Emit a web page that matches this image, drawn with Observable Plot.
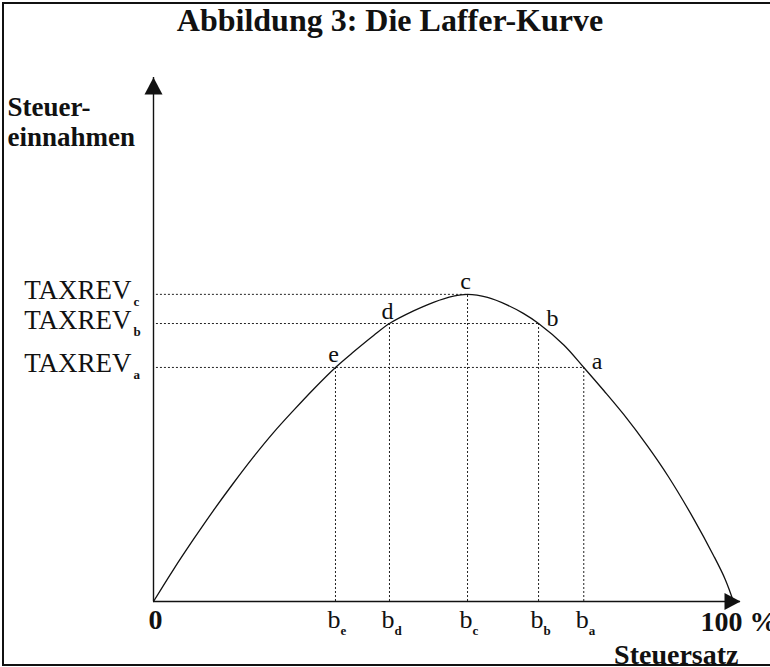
<!DOCTYPE html>
<html>
<head>
<meta charset="utf-8">
<script src="https://cdn.jsdelivr.net/npm/d3@7"></script>
<script src="https://cdn.jsdelivr.net/npm/@observablehq/plot@0.6"></script>
<style>
  html, body { margin: 0; padding: 0; background: #fff; overflow: hidden; }
  #wrap { position: relative; width: 770px; height: 667px; overflow: hidden; }
  #title { position: absolute; left: 0; top: 2px; width: 770px; padding-left: 10px; box-sizing: border-box;
           text-align: center; font: bold 32px/36px "Liberation Serif", "Times New Roman", serif; color: #111; z-index: 3; }
  #frame { position: absolute; left: 2px; top: 2px; width: 820px; height: 664px; box-sizing: border-box;
           border-left: 2px solid #111; border-top: 2px solid #111; border-bottom: 2px solid #111; z-index: 4; pointer-events: none; }
  #chart { position: absolute; left: 0; top: 0; }
</style>
</head>
<body>
<div id="wrap">
  <div id="chart"></div>
  <div id="title">Abbildung 3: Die Laffer-Kurve</div>
  <div id="frame"></div>
</div>
<script>
// Laffer curve (tax rate in %, tax revenue in arbitrary units, peak = 100)
const curveRate    = [0, 3.4, 6.8, 10.2, 13.6, 17.0, 20.4, 23.9, 27.3, 31.0, 34.1, 37.5, 40.2, 44.3, 47.7, 51.1, 53.5,
                      56.9, 60.3, 63.0, 65.6, 69.9, 73.3, 76.7, 80.1, 84.2, 87.7, 92.0, 95.4, 97.4, 98.8];
const curveRevenue = [0, 10.4, 20.2, 29.6, 38.5, 47.0, 54.9, 62.3, 69.2, 76.2, 81.3, 86.6, 90.5, 94.6, 97.4, 99.4, 100,
                      99.0, 96.5, 93.8, 90.5, 83.5, 76.2, 68.7, 60.9, 50.5, 40.7, 27.0, 15.0, 7.2, 0];

// labelled points on the curve
const pointNames   = ["e", "d", "c", "b", "a"];
const pointRate    = [31.0, 40.2, 53.5, 65.6, 73.3];
const pointRevenue = [76.2, 90.5, 100, 90.5, 76.2];

// revenue levels (TAXREV_x) and where their guide lines end
const levelNames   = ["c", "b", "a"];
const levelRevenue = [100, 90.5, 76.2];
const levelEndRate = [53.5, 65.6, 73.3];

// axis texts
const yAxisLabel = "Steuer-\neinnahmen";
const xAxisLabel = "Steuersatz";
const xStartLabel = "0";
const xEndLabel = "100 %";
const rateTickSymbol = "b";
const levelSymbol = "TAXREV";
const peakName = "c";

const xMax = 100;
const yMax = 170.6;

const curve = curveRate.map((r, i) => ({rate: r, revenue: curveRevenue[i]}));
const points = pointNames.map((n, i) => ({name: n, rate: pointRate[i], revenue: pointRevenue[i]}));
const levels = levelNames.map((n, i) => ({name: n, revenue: levelRevenue[i], end: levelEndRate[i]}));
const peakRate = points.find(p => p.name === peakName).rate;

const arrowUp = {draw(ctx) { ctx.moveTo(0, 0); ctx.lineTo(-9, 17); ctx.lineTo(9, 17); ctx.closePath(); }};
const arrowRight = {draw(ctx) { ctx.moveTo(0, 0); ctx.lineTo(-16, -8.5); ctx.lineTo(-16, 8.5); ctx.closePath(); }};

const ink = "#111";
const dotted = {stroke: "#222", strokeWidth: 1, strokeDasharray: "2,2"};
const serif = "Liberation Serif";

const chart = Plot.plot({
  width: 770,
  height: 667,
  marginLeft: 153,
  marginRight: 30,
  marginTop: 77,
  marginBottom: 66,
  x: {domain: [0, xMax], axis: null},
  y: {domain: [0, yMax], axis: null},
  style: {fontFamily: serif, background: "transparent", color: ink, overflow: "visible"},
  marks: [
    // guide lines
    Plot.ruleY(levels, {y: "revenue", x1: 0.5, x2: "end", ...dotted}),
    Plot.ruleX(points, {x: "rate", y1: 0, y2: "revenue", ...dotted}),
    // axes
    Plot.ruleX([0], {y1: 0, y2: yMax, stroke: ink, strokeWidth: 1.4}),
    Plot.ruleY([0], {x1: 0, x2: xMax, stroke: ink, strokeWidth: 1.4}),
    Plot.dot([0], {x: () => 0, y: () => yMax, symbol: arrowUp, fill: ink, stroke: null}),
    Plot.dot([0], {x: () => xMax, y: () => 0, symbol: arrowRight, fill: ink, stroke: null}),
    // curve
    Plot.line(curve, {x: "rate", y: "revenue", curve: "catmull-rom", stroke: ink, strokeWidth: 1.3}),
    // point labels
    Plot.text(points.filter(p => p.rate <= peakRate), {x: "rate", y: "revenue", text: "name", textAnchor: "middle", lineAnchor: "bottom", dx: -2, dy: -5, fontSize: 24, fill: ink}),
    Plot.text(points.filter(p => p.rate > peakRate), {x: "rate", y: "revenue", text: "name", textAnchor: "start", lineAnchor: "bottom", dx: 8, dy: 2, fontSize: 24, fill: ink}),
    // TAXREV labels
    Plot.text(levels, {x: () => 0, y: "revenue", text: () => levelSymbol, textAnchor: "end", lineAnchor: "bottom", dx: -22, dy: 5, fontSize: 27, fill: ink}),
    Plot.text(levels, {x: () => 0, y: "revenue", text: "name", textAnchor: "start", lineAnchor: "bottom", dx: -20, dy: 12, fontSize: 13, fontWeight: "bold", fill: ink}),
    // rate tick labels b_x
    Plot.text(points, {x: "rate", y: () => 0, text: () => rateTickSymbol, textAnchor: "start", lineAnchor: "bottom", dx: -8, dy: 26, fontSize: 26, fill: ink}),
    Plot.text(points, {x: "rate", y: () => 0, text: "name", textAnchor: "start", lineAnchor: "bottom", dx: 5, dy: 33, fontSize: 13, fontWeight: "bold", fill: ink}),
    // axis end labels
    Plot.text([xStartLabel], {x: () => 0, y: () => 0, text: d => d, textAnchor: "middle", lineAnchor: "bottom", dx: 2, dy: 27, fontSize: 28, fontWeight: "bold", fill: ink}),
    Plot.text([xEndLabel], {x: () => xMax, y: () => 0, text: d => d, textAnchor: "start", lineAnchor: "bottom", dx: -40, dy: 29, fontSize: 28, fontWeight: "bold", fill: ink}),
    Plot.text([xAxisLabel], {x: () => xMax, y: () => 0, text: d => d, textAnchor: "end", lineAnchor: "bottom", dx: -2, dy: 62, fontSize: 28, fontWeight: "bold", fill: ink}),
    Plot.text([yAxisLabel], {frameAnchor: "top-left", text: d => d, textAnchor: "start", lineAnchor: "bottom", lineHeight: 1.11, dx: -146, dy: 68, fontSize: 27, fontWeight: "bold", fill: ink})
  ]
});
document.getElementById("chart").appendChild(chart);
</script>
</body>
</html>
